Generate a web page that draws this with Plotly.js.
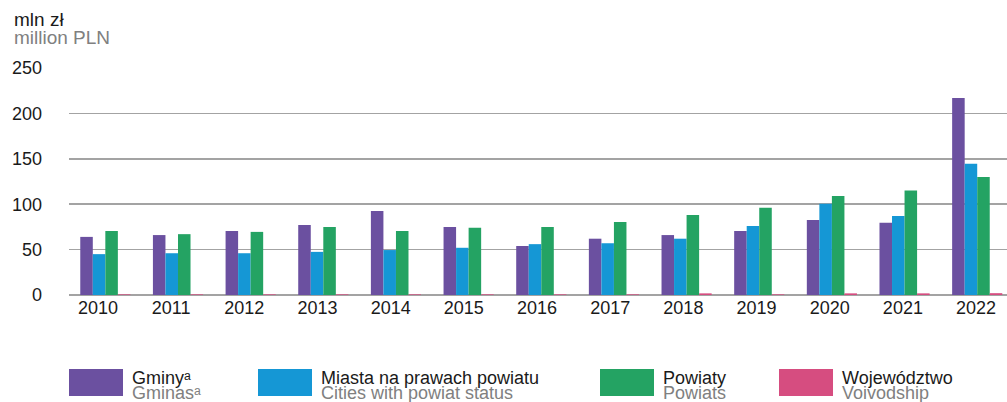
<!DOCTYPE html>
<html>
<head>
<meta charset="utf-8">
<script src="https://cdn.plot.ly/plotly-3.0.1.min.js"></script>
<style>html,body{margin:0;padding:0;background:#fff;}#chart{width:1007px;height:402px;}</style>
</head>
<body>
<div id="chart"></div>
<script>
const years = ['2010','2011','2012','2013','2014','2015','2016','2017','2018','2019','2020','2021','2022'];
const gminy = [64, 66, 70.5, 77, 92.5, 75, 54, 62, 66, 70.5, 82.5, 79.5, 217];
const miasta = [45, 46, 46, 47.5, 49.5, 52, 56, 57, 62, 76, 100.5, 87, 144.5];
const powiaty = [70.5, 67, 69.5, 75, 70.5, 74, 75, 80.5, 88, 96, 109, 115, 130];
const wojewodztwo = [0.7, 0.7, 0.7, 0.7, 0.7, 0.7, 0.7, 0.7, 1.8, 0.7, 1.8, 1.8, 2];
const yTicks = [0, 50, 100, 150, 200, 250];

const seriesNames = [['Gminyᵃ', 'Gminasᵃ'], ['Miasta na prawach powiatu', 'Cities with powiat status'], ['Powiaty', 'Powiats'], ['Województwo', 'Voivodship']];
const colors = ['#6b50a0', '#1597d5', '#24a363', '#d64d80'];
const allData = [gminy, miasta, powiaty, wojewodztwo];

const W = 1007, H = 402, L = 69, R = 0, T = 68, B = 107;
const pw = W - L - R, ph = H - T - B;
const px = x => (x - L) / pw;
const py = y => (H - B - y) / ph;

const traces = allData.map((d, i) => ({
  type: 'bar', x: years, y: d, name: seriesNames[i][0],
  marker: {color: colors[i], line: {width: 0}}, showlegend: false
}));
// invisible helper trace carrying the category labels on the label axis
traces.push({type: 'scatter', mode: 'none', x: years, y: years.map(() => 0), xaxis: 'x2', yaxis: 'y', showlegend: false, hoverinfo: 'skip'});

const font = 'Liberation Sans, Arial, sans-serif';
const shapes = [], annotations = [];
const legX = [69, 258, 600, 779];
legX.forEach((lx, i) => {
  shapes.push({type: 'rect', xref: 'paper', yref: 'paper', x0: px(lx), x1: px(lx + 54), y0: py(396), y1: py(369), fillcolor: colors[i], line: {width: 0}});
  annotations.push({xref: 'paper', yref: 'paper', x: px(lx + 61), y: py(377.5), xanchor: 'left', yanchor: 'middle', showarrow: false, text: seriesNames[i][0], font: {family: font, size: 18, color: '#1a1a1a'}});
  annotations.push({xref: 'paper', yref: 'paper', x: px(lx + 61), y: py(392.5), xanchor: 'left', yanchor: 'middle', showarrow: false, text: seriesNames[i][1], font: {family: font, size: 18, color: '#808080'}});
});
annotations.push({xref: 'paper', yref: 'paper', x: px(12), y: py(19.5), xanchor: 'left', yanchor: 'middle', showarrow: false, text: 'mln zł', font: {family: font, size: 19, color: '#1a1a1a'}});
annotations.push({xref: 'paper', yref: 'paper', x: px(12), y: py(37), xanchor: 'left', yanchor: 'middle', showarrow: false, text: 'million PLN', font: {family: font, size: 19, color: '#808080'}});

const layout = {
  width: W, height: H,
  margin: {l: L, r: R, t: T, b: B, pad: 0},
  paper_bgcolor: '#fff', plot_bgcolor: '#fff',
  barmode: 'group', bargap: 0.31, bargroupgap: 0,
  font: {family: font, size: 18, color: '#1a1a1a'},
  xaxis: {type: 'category', range: [-0.5, 12.41], showgrid: false, zeroline: false, showline: false, ticks: '', showticklabels: false, fixedrange: true},
  xaxis2: {type: 'category', overlaying: 'x', anchor: 'y', side: 'bottom', range: [-0.396, 12.423], showgrid: false, zeroline: false, showline: false, ticks: '', tickfont: {size: 18, color: '#1a1a1a'}, fixedrange: true},
  yaxis: {range: [0, 250], tickvals: yTicks, ticktext: yTicks.map(String), showgrid: true, gridcolor: '#a3a3a3', gridwidth: 1.5, zeroline: true, zerolinecolor: '#a3a3a3', zerolinewidth: 1.5, showline: false, ticks: '', ticklabelstandoff: 26, tickfont: {size: 18, color: '#1a1a1a'}, fixedrange: true},
  shapes: shapes, annotations: annotations, showlegend: false
};
Plotly.newPlot('chart', traces, layout, {displayModeBar: false, staticPlot: true});
</script>
</body>
</html>
